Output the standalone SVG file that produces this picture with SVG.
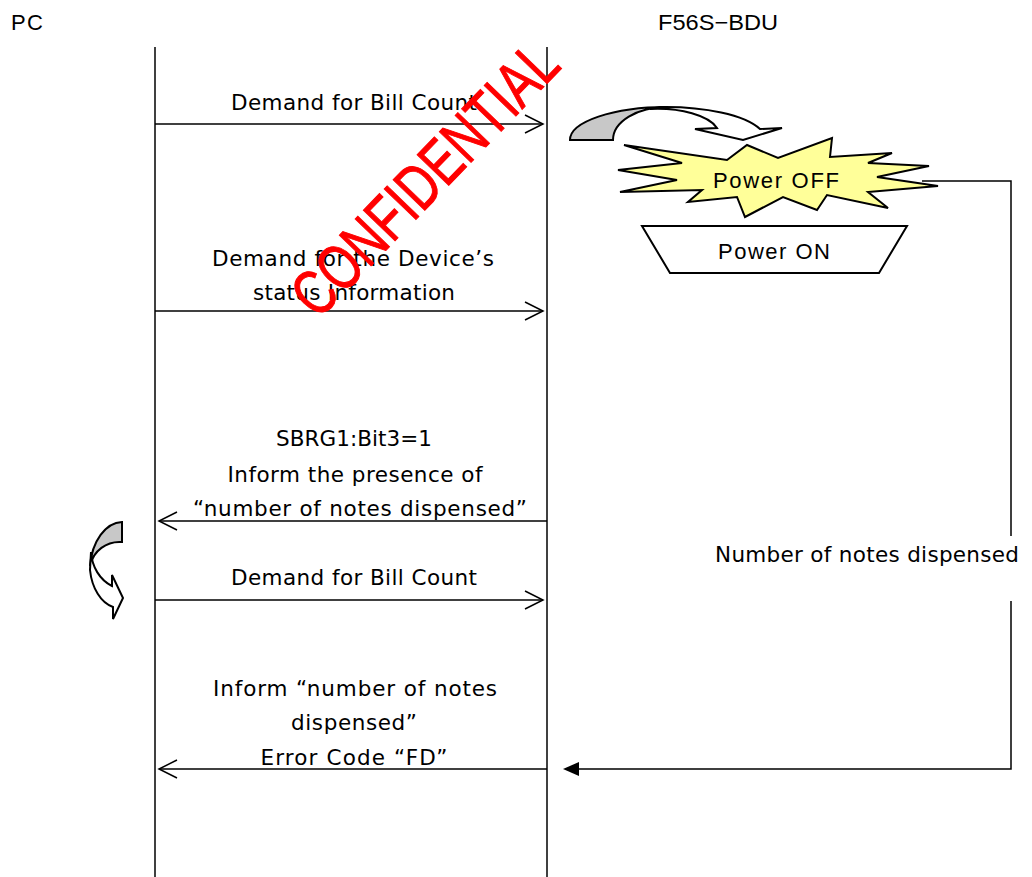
<svg xmlns="http://www.w3.org/2000/svg" width="1032" height="877" viewBox="0 0 1032 877">
<defs>
<style>
.t{font-family:"DejaVu Sans","Liberation Sans",sans-serif;font-size:21.5px;fill:#000;text-anchor:middle}
.a{font-family:"Liberation Sans",Arial,sans-serif;font-size:22px;fill:#000}
.ln{stroke:#000;stroke-width:1.5;fill:none}
.oh{stroke:#000;stroke-width:1.5;fill:none;stroke-linejoin:miter}
.sh{stroke:#000;stroke-width:2;stroke-linejoin:miter}
</style>
</defs>
<rect width="1032" height="877" fill="#fff"/>

<g id="pc">
<text class="a" x="11" y="30" textLength="32">PC</text>
<line class="ln" x1="155" y1="47" x2="155" y2="877"/>
</g>
<g id="bdu">
<text class="a" x="658" y="30" textLength="120" lengthAdjust="spacingAndGlyphs">F56S−BDU</text>
<line class="ln" x1="547" y1="47" x2="547" y2="877"/>
</g>

<g id="power-off">
<polygon class="sh" fill="#FFFF99" points="624,145 727,160 747,145 778,158 832,138 830,157 892,153 868,163 929,166 877,177 938,186 868,192 888,208 827,195 817,210 783,197 745,217 737,197 688,202 702,190 620,192 677,180 618,170 682,163"/>
<text class="a" x="776" y="188" text-anchor="middle" font-size="23" textLength="126">Power OFF</text>
</g>

<g id="power-on">
<polygon class="sh" fill="#fff" points="642,226 907,226 879,273 670,273"/>
<text class="a" x="774" y="259" text-anchor="middle" font-size="23" textLength="112">Power ON</text>
</g>

<g id="curved-arrow-top">
<path class="sh" fill="#C8C8C8" d="M570,140 A97,33 0 0 1 667,107 A54,33 0 0 0 613,140 Z"/>
<path class="sh" fill="#fff" d="M660,107 A100,33 0 0 1 760,129 L782,128 L743,140 L695,129 L717,128 A62,26 0 0 0 650,109 Z"/>
</g>

<g id="curved-arrow-left">
<path class="sh" fill="#C8C8C8" d="M122,522 A33,50 0 0 0 90,566 A30,30 0 0 1 122,542 Z"/>
<path class="sh" fill="#fff" d="M91,552 A35,40 0 0 0 112,586 L112,575 L123,598 L113,619 L113,607 A30,45 0 0 1 90,570 Z"/>
</g>

<g id="connectors">
<line class="ln" x1="155" y1="124" x2="543" y2="124"/>
<polyline class="oh" points="525,115 543,124 525,133"/>
<line class="ln" x1="155" y1="311" x2="543" y2="311"/>
<polyline class="oh" points="525,302 543,311 525,320"/>
<line class="ln" x1="547" y1="521" x2="159" y2="521"/>
<polyline class="oh" points="177,512 159,521 177,530"/>
<line class="ln" x1="155" y1="600" x2="543" y2="600"/>
<polyline class="oh" points="525,591 543,600 525,609"/>
<line class="ln" x1="547" y1="769" x2="159" y2="769"/>
<polyline class="oh" points="177,760 159,769 177,778"/>
<polyline class="ln" points="922,181 1011,181 1011,536"/>
<polyline class="ln" points="1011,601 1011,769 576,769"/>
<polygon fill="#000" points="563,769 579,762 579,776"/>
</g>

<g id="labels">
<text class="t" x="354" y="110" textLength="246">Demand for Bill Count</text>
<text class="t" x="353" y="266" textLength="282">Demand for the Device’s</text>
<text class="t" x="354" y="300" textLength="202">status Information</text>
<text class="t" x="354" y="446" textLength="156">SBRG1:Bit3=1</text>
<text class="t" x="355" y="482" textLength="255">Inform the presence of</text>
<text class="t" x="360" y="516" textLength="334">“number of notes dispensed”</text>
<text class="t" x="354" y="585" textLength="246">Demand for Bill Count</text>
<text class="t" x="355" y="696" textLength="284">Inform “number of notes</text>
<text class="t" x="354" y="730" textLength="126">dispensed”</text>
<text class="t" x="354" y="765" textLength="187">Error Code “FD”</text>
<text class="t" x="867" y="562" textLength="304">Number of notes dispensed</text>
</g>

<g id="watermark">
<text x="0" y="0" transform="translate(424,178) rotate(-46)" font-family="Liberation Sans, Arial, sans-serif" font-size="64" fill="#FF0000" stroke="#FF0000" stroke-width="1" text-anchor="middle" dy="23" textLength="352" lengthAdjust="spacingAndGlyphs">CONFIDENTIAL</text>
</g>
</svg>
